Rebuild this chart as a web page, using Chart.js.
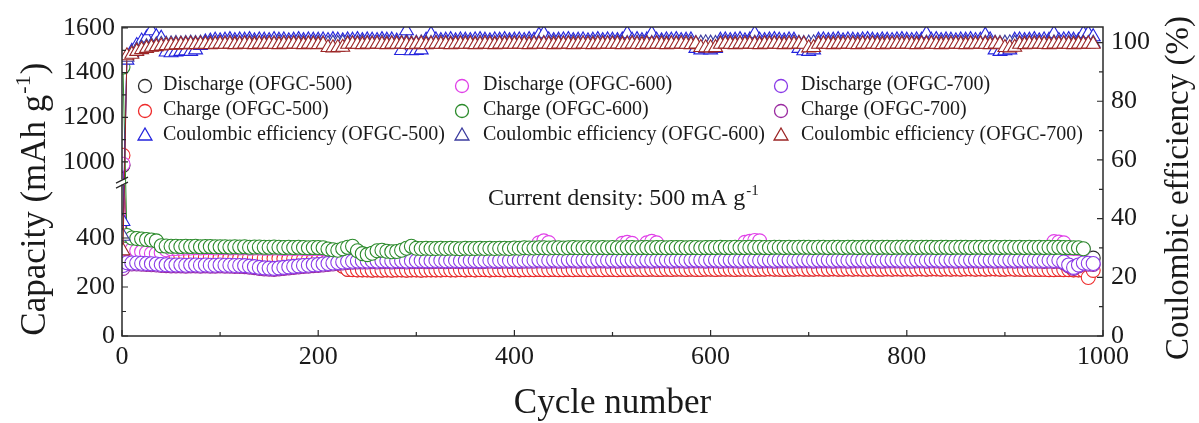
<!DOCTYPE html>
<html><head><meta charset="utf-8">
<script src="https://cdn.jsdelivr.net/npm/chart.js@4.4.0/dist/chart.umd.min.js"></script>
<style>html,body{margin:0;padding:0;background:#fff;}#wrap{width:1199px;height:423px;}</style>
</head><body><div id="wrap"><canvas id="c" width="1199" height="423"></canvas></div>
<script>
// ---------- DATA (one point every 5 cycles) ----------
const cycles = [1,5,10,15,20,25,30,35,40,45,50,55,60,65,70,75,80,85,90,95,
100,105,110,115,120,125,130,135,140,145,150,155,160,165,170,175,180,185,190,195,
200,205,210,215,220,225,230,235,240,245,250,255,260,265,270,275,280,285,290,295,
300,305,310,315,320,325,330,335,340,345,350,355,360,365,370,375,380,385,390,395,
400,405,410,415,420,425,430,435,440,445,450,455,460,465,470,475,480,485,490,495,
500,505,510,515,520,525,530,535,540,545,550,555,560,565,570,575,580,585,590,595,
600,605,610,615,620,625,630,635,640,645,650,655,660,665,670,675,680,685,690,695,
700,705,710,715,720,725,730,735,740,745,750,755,760,765,770,775,780,785,790,795,
800,805,810,815,820,825,830,835,840,845,850,855,860,865,870,875,880,885,890,895,
900,905,910,915,920,925,930,935,940,945,950,955,960,965,970,975,980,985,990];

const discharge500 = [985,376,364,355,348,344,340,336,332,330,328,327,326,326,325,325,323,323,322,322,
321,321,321,320,320,320,319,319,319,318,318,317,317,316,316,315,315,314,314,313,
313,312,311,306,301,286,273,272,271,271,271,270,271,270,271,270,271,271,270,271,
271,270,271,271,271,271,272,271,271,272,271,272,271,272,272,271,272,272,271,272,
272,271,272,272,272,273,272,272,273,272,272,273,272,273,273,272,273,273,272,273,
273,272,273,273,273,274,273,273,274,273,273,274,273,274,274,273,274,273,273,274,
274,273,274,274,274,273,274,274,274,273,274,274,275,274,274,273,274,274,275,274,
274,274,275,274,274,275,274,274,275,274,275,274,274,275,274,274,275,274,275,274,
275,274,275,275,274,275,275,274,275,274,275,274,275,275,274,275,274,275,275,274,
274,320,274,274,273,274,274,273,320,272,272,273,272,272,271,271,270,272,318];

const charge500 = [1030,372,360,352,345,341,338,334,330,328,326,326,325,325,324,324,322,322,321,321,
320,320,320,319,319,319,318,318,318,317,317,316,316,315,315,314,314,313,313,312,
312,311,310,305,300,285,272,271,270,270,270,269,270,269,270,269,270,270,269,270,
270,269,270,270,270,270,271,270,270,271,270,271,270,271,271,270,271,271,270,271,
271,270,271,271,271,272,271,271,272,271,271,272,271,272,272,271,272,272,271,272,
272,271,272,272,272,273,272,272,273,272,272,273,272,273,273,272,273,272,272,273,
273,272,273,273,273,272,273,273,273,272,273,273,274,273,273,272,273,273,274,273,
273,273,274,273,273,274,273,273,274,273,274,273,273,274,273,273,274,273,274,273,
274,273,274,274,273,274,274,273,274,273,274,273,274,274,273,274,273,274,274,273,
273,274,273,273,272,273,272,272,272,271,271,272,271,271,270,270,269,239,268];

const ce500 = [39,94,97,99,100.5,101.5,104,102,101.5,96.8,96.5,96.8,97,97.2,97,97.5,99,100.2,100.5,100.8,
100.6,100.8,101,100.7,100.9,100.8,101,100.6,100.9,100.8,100.7,101,100.8,100.9,100.6,100.8,101,100.7,100.9,100.8,
100.8,100.9,100.7,101,100.8,100.6,100.9,100.8,101,100.7,100.9,100.8,100.7,101,100.8,100.9,100.5,97.3,104,97.2,
97.3,97.5,100.8,102.8,100.9,100.7,100.8,101,100.6,100.9,100.8,100.7,100.9,101,100.8,100.6,100.9,100.8,101,100.7,
100.8,100.9,100.7,101,100.8,102.5,103,100.9,100.7,100.8,100.9,101,100.7,100.8,100.9,100.6,100.8,101,100.7,100.9,
100.8,100.7,100.9,103,100.8,101,100.7,100.9,103,100.8,100.6,100.9,100.8,101,100.7,100.8,100.9,98,97.5,98,
97.5,98,100.8,100.9,100.7,100.8,101,100.6,100.9,103,100.8,100.7,100.9,101,100.8,100.6,100.9,100.8,98,97.2,
97,97.5,100.8,100.9,100.7,100.8,101,100.6,100.9,100.8,100.7,100.9,101,100.8,100.6,100.9,100.8,100.7,100.9,101,
100.8,100.7,100.9,100.8,103,100.8,101,100.7,100.9,100.8,100.6,100.9,100.8,101,100.7,100.8,102.5,100.9,97.5,97,
97.2,97.5,100.8,100.9,100.7,100.8,101,100.6,100.9,100.8,103,100.7,100.9,101,100.8,100.6,103,103,102];

const discharge600 = [990,355,352,348,344,340,337,336,340,352,356,357,358,359,359,360,359,360,360,359,
360,360,359,360,359,360,358,359,359,358,358,359,358,357,358,357,358,357,356,357,
357,356,351,348,346,352,358,362,344,332,328,334,344,346,342,340,341,346,354,362,
355,354,355,354,354,355,354,355,354,353,355,354,354,355,354,355,354,355,355,354,
356,355,357,356,356,380,388,381,357,357,356,357,358,357,357,358,357,357,358,357,
358,357,378,382,378,357,358,380,386,380,358,357,358,358,357,358,358,357,358,358,
358,358,359,358,358,359,358,382,386,390,388,359,358,359,358,359,359,358,359,359,
359,358,359,359,358,359,359,358,359,359,358,359,359,359,358,359,359,358,359,359,
359,359,358,359,359,359,358,359,359,358,359,359,359,358,359,359,358,359,359,358,
359,359,358,359,358,359,358,359,358,359,385,383,380,358,357,356,354,null,null];

const charge600 = [1425,410,400,398,396,394,392,388,368,367,366,366,365,366,365,366,364,365,365,364,
364,364,363,364,363,364,362,363,363,362,362,363,362,361,362,361,362,361,360,361,
361,360,355,352,350,356,362,366,348,336,332,338,348,350,346,344,345,350,358,366,
358,357,358,357,357,358,357,358,357,356,358,357,357,358,357,358,357,358,358,357,
359,358,360,359,359,360,360,359,360,360,359,360,361,360,360,361,360,360,361,360,
361,360,360,361,361,360,361,361,360,361,361,360,361,361,361,360,361,361,360,361,
361,361,362,361,361,362,361,361,362,361,362,361,361,362,362,361,362,361,362,362,
362,361,362,362,361,362,362,361,362,362,361,362,362,362,361,362,362,361,362,362,
362,362,361,362,362,362,361,362,362,361,362,362,362,361,362,362,361,362,362,361,
362,362,361,362,361,362,361,362,361,362,361,362,361,361,360,360,356,null,null];

const ce600 = [34,95,96.5,97.5,98.2,98.6,99,99.2,99.4,99.5,99.6,99.7,99.6,99.7,99.8,99.7,99.8,99.7,99.8,99.7,
99.8,99.7,99.9,99.8,99.7,99.8,99.9,99.8,99.7,99.8,99.8,99.7,99.9,99.8,99.7,99.8,99.9,99.8,99.7,99.8,
99.8,99.7,99.6,99.8,99.7,99.9,99.8,99.7,99.8,99.9,99.8,99.7,99.8,99.9,99.8,99.7,99.8,99.8,99.9,99.7,
99.8,99.9,99.8,99.7,99.8,99.9,99.8,99.7,99.8,99.8,99.9,99.8,99.7,99.8,99.9,99.8,99.7,99.8,99.8,99.9,
99.8,99.7,99.8,99.9,99.8,99.8,99.7,99.8,99.9,99.8,99.7,99.8,99.9,99.8,99.7,99.8,99.8,99.9,99.8,99.7,
99.8,99.9,99.8,99.7,99.8,99.8,99.9,99.8,99.7,99.8,99.9,99.8,99.7,99.8,99.8,99.9,99.8,99.7,99.8,99.9,
99.8,99.7,99.8,99.9,99.8,99.8,99.7,99.8,99.9,99.8,99.7,99.8,99.9,99.8,99.7,99.8,99.8,99.9,99.8,99.7,
99.8,99.9,99.8,99.7,99.8,99.8,99.9,99.8,99.7,99.8,99.9,99.8,99.7,99.8,99.8,99.9,99.8,99.7,99.8,99.9,
99.8,99.7,99.8,99.9,99.8,99.8,99.7,99.8,99.9,99.8,99.7,99.8,99.9,99.8,99.7,99.8,99.8,99.9,99.8,99.7,
99.8,99.9,99.8,99.7,99.8,99.8,99.9,99.8,99.7,99.8,99.9,99.8,99.7,99.8,99.8,99.9,99.8,99.7,99.8];

const discharge700 = [288,299,298,298,297,296,295,294,292,291,290,290,290,289,290,290,289,290,289,289,
290,289,289,288,288,287,285,283,280,278,277,276,278,280,282,284,286,288,289,291,
292,294,296,298,300,302,304,305,306,306,306,307,306,307,307,306,307,307,306,307,
307,308,307,307,308,308,307,308,308,307,308,308,308,307,308,309,308,308,309,308,
309,308,309,309,309,310,309,309,310,309,309,310,310,309,310,310,309,310,310,309,
310,309,310,310,310,309,310,310,309,310,310,310,309,310,310,309,310,310,310,309,
310,310,309,310,310,310,309,310,310,310,309,310,310,309,310,310,310,309,310,310,
310,309,310,310,310,309,310,310,309,310,310,310,309,310,310,309,310,310,310,309,
310,309,310,310,309,310,310,309,310,310,309,310,309,310,310,309,310,310,309,310,
309,310,309,310,309,310,309,309,308,309,308,309,302,290,280,290,298,297,296];

const charge700 = [276,295,294,294,293,292,291,290,288,287,286,286,286,285,286,286,285,286,285,285,
286,285,285,284,284,283,281,279,276,274,273,272,274,276,278,280,282,284,285,287,
288,290,292,294,296,298,300,301,302,302,302,303,302,303,303,302,303,303,302,303,
303,304,303,303,304,304,303,304,304,303,304,304,304,303,304,305,304,304,305,304,
305,304,305,305,305,306,305,305,306,305,305,306,306,305,306,306,305,306,306,305,
306,305,306,306,306,305,306,306,305,306,306,306,305,306,306,305,306,306,306,305,
306,306,305,306,306,306,305,306,306,306,305,306,306,305,306,306,306,305,306,306,
306,305,306,306,306,305,306,306,305,306,306,306,305,306,306,305,306,306,306,305,
306,305,306,306,305,306,306,305,306,306,305,306,305,306,306,305,306,306,305,306,
305,306,305,306,305,306,305,305,304,305,304,305,298,286,276,286,294,293,292];

const ce700 = [29,95.5,96,97,97.6,98,98.4,98.6,98.8,99,99.1,99.2,99.3,99.3,99.4,99.3,99.4,99.4,99.3,99.4,
99.5,99.4,99.5,99.3,99.4,99.5,99.4,99.3,99.5,99.4,99.5,99.4,99.3,99.5,99.4,99.5,99.4,99.3,99.5,99.4,
99.3,99.4,98.3,98.2,98.3,98.4,99.4,99.5,99.4,99.3,99.5,99.4,99.5,99.4,99.3,99.5,99.4,99.5,99.4,99.3,
99.4,99.5,99.3,99.4,99.5,99.4,99.5,99.3,99.4,99.5,99.4,99.5,99.3,99.4,99.5,99.4,99.3,99.5,99.4,99.5,
99.4,99.5,99.4,99.3,99.5,99.4,99.5,99.4,99.3,99.5,99.4,99.5,99.3,99.4,99.5,99.4,99.3,99.5,99.4,99.5,
99.4,99.5,99.3,99.4,99.5,99.4,99.3,99.5,99.4,99.5,99.4,99.3,99.5,99.4,99.5,99.4,99.3,99.5,98.3,98.2,
98.2,98.3,99.4,99.5,99.4,99.3,99.5,99.4,99.5,99.4,99.3,99.5,99.4,99.5,99.4,99.3,99.5,99.4,99.5,99.4,
98.2,98.3,99.4,99.5,99.4,99.3,99.5,99.4,99.5,99.4,99.3,99.5,99.4,99.5,99.4,99.3,99.5,99.4,99.5,99.4,
99.5,99.4,99.3,99.5,99.4,99.5,99.4,99.3,99.5,99.4,99.5,99.4,99.3,99.5,99.4,99.5,99.4,99.3,99.5,99.4,
98.3,98.2,98.4,99.4,99.3,99.5,99.4,99.5,99.4,99.3,99.5,99.4,99.5,99.4,99.3,99.5,99.4,99.5,99.4];

const capacityTickLabels = [0,200,400,1000,1200,1400,1600];
const capacityMinorTicks = [100,300,500,1100,1300,1500];
const ceTickLabels = [0,20,40,60,80,100];
const xTickStep = 200;

// ---------- broken left axis mapping ----------
const BREAK_LOW = 628, UP_BASE = 1000, UP_OFFSET = 710.2, UP_RATIO = 0.9114, Y_MAX = 1261;
function toAxis(v){ if (v == null) return null; return v <= BREAK_LOW ? v : UP_OFFSET + (v - UP_BASE) * UP_RATIO; }

const FONT = "'Liberation Serif','Times New Roman',serif";
const AXIS = '#2a2a2a';

function pts(arr, map){ return cycles.map((c,i)=>({x:c, y: map ? map(arr[i]) : arr[i]})); }

function capDS(label, arr, color, order, col, row){
  return {label, data: pts(arr, toAxis), yAxisID:'y', borderColor:color, backgroundColor:'#fff',
    pointBackgroundColor:'#fff', pointBorderColor:color, pointStyle:'circle', pointRadius:7, pointBorderWidth:1.1,
    borderWidth:1, order, lg:[col,row], spanGaps:false};
}
function ceDS(label, arr, color, order, col, row){
  return {label, data: pts(arr), yAxisID:'y2', borderColor:color, backgroundColor:'#fff',
    pointBackgroundColor:'#fff', pointBorderColor:color, pointStyle:'triangle', pointRadius:8, pointBorderWidth:1.1,
    borderWidth:1, order, lg:[col,row]};
}

const datasets = [
  capDS('Discharge (OFGC-500)', discharge500, '#2b2b2b', 9, 0, 0),
  capDS('Charge (OFGC-500)', charge500, '#ee2b2b', 8, 0, 1),
  ceDS('Coulombic efficiency (OFGC-500)', ce500, '#2323dd', 3, 0, 2),
  capDS('Discharge (OFGC-600)', discharge600, '#e040e8', 7, 1, 0),
  capDS('Charge (OFGC-600)', charge600, '#2a8a2a', 4, 1, 1),
  ceDS('Coulombic efficiency (OFGC-600)', ce600, '#3b3b9e', 2, 1, 2),
  capDS('Discharge (OFGC-700)', discharge700, '#8a3ae8', 5, 2, 0),
  capDS('Charge (OFGC-700)', charge700, '#9a2aa0', 6, 2, 1),
  ceDS('Coulombic efficiency (OFGC-700)', ce700, '#9b2525', 1, 2, 2)
];

function drawSup(ctx, base, sup, x, y, size, supSize, align){
  ctx.font = size + 'px ' + FONT;
  const w1 = ctx.measureText(base).width;
  ctx.font = supSize + 'px ' + FONT;
  const w2 = ctx.measureText(sup).width;
  let sx = x;
  if (align === 'center') sx = x - (w1 + w2) / 2;
  ctx.textAlign = 'left';
  ctx.font = size + 'px ' + FONT;
  ctx.fillText(base, sx, y);
  ctx.font = supSize + 'px ' + FONT;
  ctx.fillText(sup, sx + w1 + 1, y - size * 0.42);
  return sx + w1 + w2 + 1;
}

const decor = {
  id:'decor',
  afterDatasetsDraw(chart){
    const ctx = chart.ctx, a = chart.chartArea;
    const xs = chart.scales.x, ys = chart.scales.y, y2 = chart.scales.y2;
    ctx.save();
    ctx.strokeStyle = AXIS; ctx.lineWidth = 1.5;
    ctx.strokeRect(a.left, a.top, a.right - a.left, a.bottom - a.top);
    ctx.lineWidth = 1.2;
    ctx.beginPath();
    const xt = xs.ticks.map(t=>t.value);
    xt.forEach((v,i)=>{
      const p = xs.getPixelForValue(v);
      ctx.moveTo(p, a.bottom); ctx.lineTo(p, a.bottom - 6);
      if (i < xt.length - 1){ const m = xs.getPixelForValue((v + xt[i+1]) / 2); ctx.moveTo(m, a.bottom); ctx.lineTo(m, a.bottom - 4); }
    });
    capacityTickLabels.forEach(v=>{ const p = ys.getPixelForValue(toAxis(v)); ctx.moveTo(a.left, p); ctx.lineTo(a.left + 6, p); });
    capacityMinorTicks.forEach(v=>{ const p = ys.getPixelForValue(toAxis(v)); ctx.moveTo(a.left, p); ctx.lineTo(a.left + 4, p); });
    const rt = y2.ticks.map(t=>t.value);
    rt.forEach((v,i)=>{
      const p = y2.getPixelForValue(v);
      ctx.moveTo(a.right, p); ctx.lineTo(a.right - 6, p);
      if (i < rt.length - 1){ const m = y2.getPixelForValue((v + rt[i+1]) / 2); ctx.moveTo(a.right, m); ctx.lineTo(a.right - 4, m); }
    });
    ctx.stroke();
    // axis break
    const yb = ys.getPixelForValue(BREAK_LOW);
    ctx.fillStyle = '#fff';
    ctx.fillRect(a.left - 3, yb - 2.5, 6, 5);
    ctx.beginPath();
    ctx.moveTo(a.left - 6, yb + 1); ctx.lineTo(a.left + 6, yb - 5);
    ctx.moveTo(a.left - 6, yb + 6); ctx.lineTo(a.left + 6, yb);
    ctx.stroke();

    // legend
    const symX = [145, 462, 781], txtX = [163, 483, 801], rowY = [85, 110, 135];
    chart.data.datasets.forEach(ds=>{
      const [c, r] = ds.lg;
      ctx.strokeStyle = ds.pointBorderColor; ctx.fillStyle = '#fff'; ctx.lineWidth = 1.3;
      Chart.helpers.drawPoint(ctx, {pointStyle: ds.pointStyle, radius: ds.pointStyle === 'triangle' ? 8 : 6.5, rotation:0, borderWidth:1.3}, symX[c], rowY[r] + 1);
      ctx.fillStyle = '#1a1a1a'; ctx.font = '20px ' + FONT; ctx.textAlign = 'left'; ctx.textBaseline = 'middle';
      ctx.fillText(ds.label, txtX[c], rowY[r]);
    });

    // annotation
    ctx.fillStyle = '#1a1a1a'; ctx.textBaseline = 'alphabetic';
    drawSup(ctx, 'Current density: 500 mA g', '-1', 488, 205, 24, 15, 'left');

    // x title
    ctx.font = '35px ' + FONT; ctx.textAlign = 'center';
    ctx.fillText('Cycle number', (a.left + a.right) / 2, 413);

    // left title
    ctx.save();
    ctx.translate(45, 206); ctx.rotate(-Math.PI / 2);
    ctx.textBaseline = 'alphabetic';
    const end = drawSup(ctx, 'Capacity (mAh g', '-1', 0, 0, 35, 22, 'center');
    ctx.font = '35px ' + FONT; ctx.textAlign = 'left';
    ctx.fillText(')', end + 1, 0);
    ctx.restore();

    // right title
    ctx.save();
    ctx.translate(1188, 188); ctx.rotate(-Math.PI / 2);
    ctx.font = '33px ' + FONT; ctx.textAlign = 'center'; ctx.textBaseline = 'alphabetic';
    ctx.fillText('Coulombic efficiency (%)', 0, 0);
    ctx.restore();
    ctx.restore();
  }
};

new Chart(document.getElementById('c'), {
  type:'line',
  data:{datasets},
  options:{
    responsive:false, animation:false, devicePixelRatio:1,
    layout:{padding:{top:27, left:0, right:0, bottom:0}},
    plugins:{legend:{display:false}, tooltip:{enabled:false}},
    scales:{
      x:{type:'linear', min:0, max:1000, grid:{display:false, drawTicks:false}, border:{display:false},
        ticks:{stepSize:xTickStep, padding:6, color:'#1a1a1a', font:{family:FONT, size:26}, callback:v=>String(v)},
        afterFit(s){ s.height = 87; }},
      y:{type:'linear', position:'left', min:0, max:Y_MAX, grid:{display:false, drawTicks:false}, border:{display:false},
        afterBuildTicks(s){ s.ticks = capacityTickLabels.map(v=>({value: toAxis(v)})); },
        ticks:{padding:7, color:'#1a1a1a', font:{family:FONT, size:26}, callback:(v,i)=>String(capacityTickLabels[i])},
        afterFit(s){ s.width = 122; }},
      y2:{type:'linear', position:'right', min:0, max:105.3, grid:{display:false, drawTicks:false}, border:{display:false},
        afterBuildTicks(s){ s.ticks = ceTickLabels.map(v=>({value:v})); },
        ticks:{padding:8, color:'#1a1a1a', font:{family:FONT, size:26}, callback:(v,i)=>String(ceTickLabels[i])},
        afterFit(s){ s.width = 96; }}
    }
  },
  plugins:[decor]
});
</script></body></html>
